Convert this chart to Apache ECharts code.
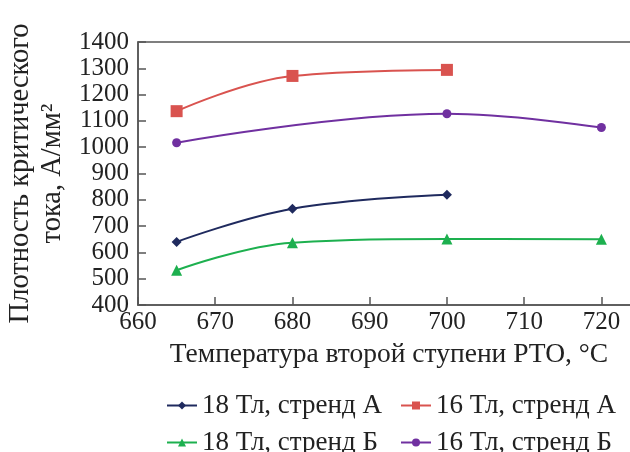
<!DOCTYPE html>
<html>
<head>
<meta charset="utf-8">
<script src="https://cdn.jsdelivr.net/npm/echarts@6/dist/echarts.min.js"></script>
<style>html,body{margin:0;padding:0;background:#fff}#c{width:630px;height:452px}</style>
</head>
<body>
<div id="c"></div>
<script>
const xTicks = [660, 670, 680, 690, 700, 710, 720];
const s18A = [[665, 640], [680, 766], [700, 819]];
const s16A = [[665, 1137], [680, 1271], [700, 1294]];
const s18B = [[665, 532], [680, 637], [700, 651], [720, 650]];
const s16B = [[665, 1017], [700, 1127], [720, 1075]];
const names = ['18 Тл, стренд А', '16 Тл, стренд А', '18 Тл, стренд Б', '16 Тл, стренд Б'];

const font = 'Liberation Serif';
const chart = echarts.init(document.getElementById('c'), null, {renderer: 'canvas'});
const mk = (name, data, color, symbol, size) => ({
  name, type: 'line', data, smooth: 0.4, symbol, symbolSize: size,
  lineStyle: {color, width: 2}, itemStyle: {color}, color
});
const leg = (name, left, top) => ({
  data: [name], left, top, itemWidth: 30, itemHeight: 10, padding: 0,
  textStyle: {fontFamily: font, fontSize: 27, color: '#222'}
});
chart.setOption({
  animation: false,
  backgroundColor: '#fff',
  grid: {left: 138, top: 42, right: -10, bottom: 147, outerBoundsMode: 'none', containLabel: false,
    show: true, borderColor: '#555', borderWidth: 1.5, backgroundColor: 'transparent'},
  xAxis: {
    type: 'value', min: 660, max: 725, interval: 10,
    axisLine: {show: true, lineStyle: {color: '#555', width: 1.5}},
    axisTick: {show: true, inside: true, length: 8, lineStyle: {color: '#555', width: 1.5}},
    splitLine: {show: false},
    axisLabel: {fontFamily: font, fontSize: 25, color: '#222', margin: 5, showMaxLabel: false,
      formatter: v => xTicks.includes(v) ? String(v) : ''},
    name: 'Температура второй ступени РТО, °С', nameLocation: 'middle', nameGap: 36,
    nameTextStyle: {fontFamily: font, fontSize: 27.5, color: '#222'}
  },
  yAxis: {
    type: 'value', min: 400, max: 1400, interval: 100,
    axisLine: {show: true, lineStyle: {color: '#555', width: 1.5}},
    axisTick: {show: true, inside: true, length: 8, lineStyle: {color: '#555', width: 1.5}},
    splitLine: {show: false},
    axisLabel: {fontFamily: font, fontSize: 25, color: '#222', margin: 9, formatter: v => String(v)},
    name: 'Плотность критического\nтока, А/мм²', nameLocation: 'middle', nameGap: 64,
    nameTextStyle: {fontFamily: font, fontSize: 28.5, color: '#222', lineHeight: 32}
  },
  legend: [
    leg(names[0], 166, 392), leg(names[1], 400, 392),
    leg(names[2], 166, 429), leg(names[3], 400, 429)
  ],
  series: [
    mk(names[0], s18A, '#1f2a5e', 'diamond', 10),
    mk(names[1], s16A, '#d9534f', 'rect', 12),
    mk(names[2], s18B, '#1db04f', 'triangle', 11),
    mk(names[3], s16B, '#7030a0', 'circle', 9)
  ]
});
</script>
</body>
</html>
